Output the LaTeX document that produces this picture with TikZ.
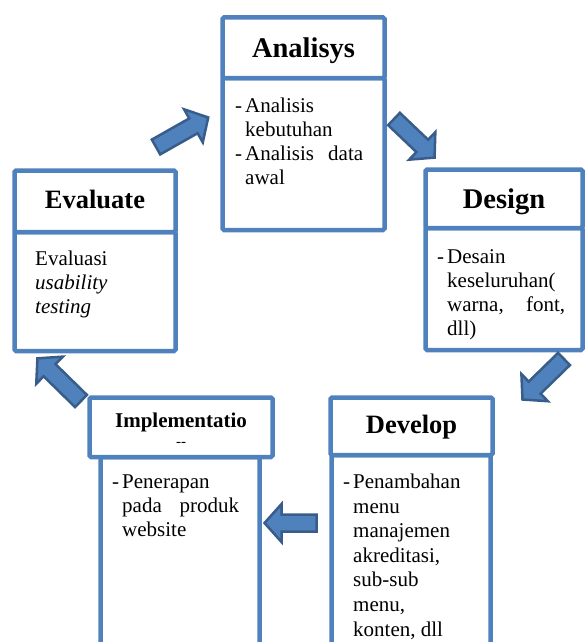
\documentclass[tikz,border=0pt]{standalone}
\usepackage{fontspec}
\setmainfont{Liberation Serif}
\definecolor{boxblue}{HTML}{4F81BD}
\definecolor{arrowdark}{HTML}{385D8A}
\tikzset{
  stagebox/.style={draw=boxblue, line width=4.5pt, fill=white, rounded corners=1.5pt,
    anchor=north west, inner sep=0pt, outer sep=0pt},
  titletext/.style={anchor=base, inner sep=0pt, font=\bfseries\fontsize{#1}{#1}\selectfont},
  bodytext/.style={anchor=north west, inner sep=0pt, align=left, font=\fontsize{21}{24}\selectfont},
  arrowbody/.style={draw=arrowdark, fill=boxblue, line width=2.5pt, line join=miter},
  pics/barrow/.style={code={
    \draw[arrowbody] (0,-8.5) -- ({#1-17},-8.5) -- ({#1-17},-19) -- (#1,0)
      -- ({#1-17},19) -- ({#1-17},8.5) -- (0,8.5) -- cycle;}}
}
\newcommand{\dsh}{\makebox[10pt][l]{-}}
\newcommand{\ind}{\hspace*{10pt}}
\begin{document}
\begin{tikzpicture}[x=1pt,y=1pt]
\useasboundingbox (0,0) rectangle (586,-642);
\clip (0,0) rectangle (586,-642);

% Analisys
\node[stagebox, minimum width=162pt, minimum height=152pt] (anB) at (222.5,-78) {};
\node[stagebox, minimum width=162pt, minimum height=60.5pt] (anH) at (222.5,-17.5) {};
\node[titletext=28.5] (anT) at (303.5,-57) {Analisys};
\node[bodytext] (anX) at (235,-95.2) {\dsh Analisis\strut\\
\ind kebutuhan\\
\dsh\hbox to 118pt{Analisis\hfill data}\\
\ind awal};

% Evaluate
\node[stagebox, minimum width=161pt, minimum height=119pt] (evB) at (14.5,-232) {};
\node[stagebox, minimum width=161pt, minimum height=61.5pt] (evH) at (14.5,-170.5) {};
\node[titletext=26.5] (evT) at (95,-208) {Evaluate};
\node[bodytext] (evX) at (35,-248.2) {Evaluasi\strut\\
\textit{usability}\\
\textit{testing}};

% Design
\node[stagebox, minimum width=157pt, minimum height=122pt] (deB) at (425.5,-228) {};
\node[stagebox, minimum width=157pt, minimum height=58.5pt] (deH) at (425.5,-169.5) {};
\node[titletext=28.5] (deT) at (504,-208) {Design};
\node[bodytext] (deX) at (437,-246.2) {\dsh Desain\strut\\
\ind keseluruhan(\\
\ind\hbox to 118pt{warna,\hfill font,}\\
\ind dll)};

% Implementation
\node[stagebox, minimum width=159pt, minimum height=243pt] (imB) at (100.5,-457) {};
\node[stagebox, minimum width=183pt, minimum height=59.5pt] (imH) at (89.5,-397.5) {};
\node[titletext=21] (imT) at (181,-427) {Implementatio};
\node[anchor=base, inner sep=0pt, font=\fontsize{15}{15}\selectfont] (imD) at (181,-446) {-{}-};
\node[bodytext] (imX) at (112,-471.2) {\dsh Penerapan\strut\\
\ind\hbox to 117pt{pada\hfill produk}\\
\ind website};

% Develop
\node[stagebox, minimum width=159pt, minimum height=245pt] (dvB) at (331.5,-455) {};
\node[stagebox, minimum width=162pt, minimum height=57.5pt] (dvH) at (330.5,-397.5) {};
\node[titletext=26.5] (dvT) at (411.5,-433) {Develop};
\node[bodytext, font=\fontsize{21}{24.6}\selectfont] (dvX) at (343,-471) {\dsh Penambahan\strut\\
\ind menu\\
\ind manajemen\\
\ind akreditasi,\\
\ind sub-sub\\
\ind menu,\\
\ind konten, dll};

% block arrows
\pic[rotate=29.5] (a1) at (156,-147) {barrow=60};
\pic[rotate=-43.6] (a2) at (394,-119) {barrow=56};
\pic[rotate=224.3] (a3) at (564,-359) {barrow=58};
\pic[rotate=180] (a4) at (316.5,-523) {barrow=52};
\pic[rotate=135.6] (a5) at (81,-401) {barrow=61};
\end{tikzpicture}
\end{document}
